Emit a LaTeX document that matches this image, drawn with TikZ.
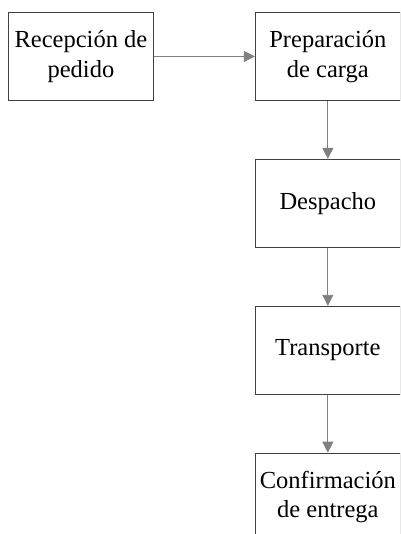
\documentclass[tikz,border=0pt]{standalone}
\usepackage{fontspec}
\setmainfont{Liberation Serif}
\usepackage{tikz}
\usetikzlibrary{arrows.meta,positioning}
\definecolor{BoxLine}{RGB}{64,64,64}
\definecolor{FlowGray}{RGB}{128,128,128}
\begin{document}
\begin{tikzpicture}[node distance=58pt and 101pt,
  every node/.style={font=\fontsize{24.5}{29.5}\selectfont},
  stagebox/.style={draw=BoxLine, line width=0.9pt, minimum width=145pt, minimum height=88pt, inner sep=0pt, align=center},
  flow/.style={-{Triangle[length=11pt,width=11pt]}, line width=0.9pt, FlowGray}]
\useasboundingbox (0,0) rectangle (400pt,-534pt);
\clip (0,0) rectangle (400pt,-534pt);
\node[stagebox, anchor=north west] (rec) at (8pt,-12pt) {Recepción de\\pedido};
\node[stagebox, right=of rec] (prep) {Preparación\\de carga};
\node[stagebox, below=of prep] (desp) {Despacho};
\node[stagebox, below=of desp] (trans) {Transporte};
\node[stagebox, below=of trans] (conf) {Confirmación\\de entrega};
\draw[flow] (rec) -- (prep);
\draw[flow] (prep) -- (desp);
\draw[flow] (desp) -- (trans);
\draw[flow] (trans) -- (conf);
\end{tikzpicture}
\end{document}
